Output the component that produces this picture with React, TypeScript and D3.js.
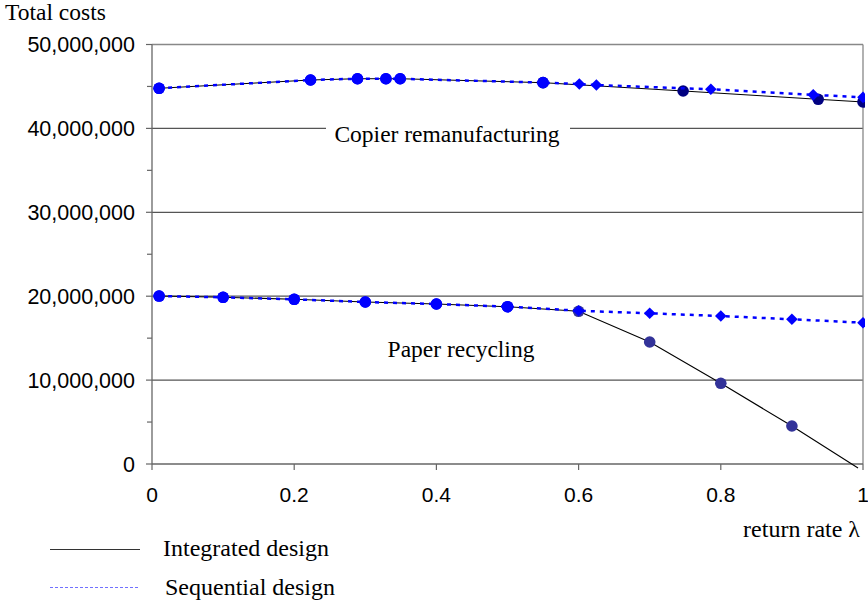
import React from "react";
import * as d3 from "d3";

// Return rates (λ) and total costs for both product cases
const copierIntegratedX = [0.01, 0.223, 0.289, 0.329, 0.349, 0.55, 0.747, 0.937, 1.0];
const copierIntegratedY = [44780000, 45770000, 45920000, 45920000, 45920000, 45450000, 44460000, 43470000, 43150000];
const copierIntegratedColor = ["#0000ff", "#0000ff", "#0000ff", "#0000ff", "#0000ff", "#000080", "#000080", "#000080", "#000080"];

const copierSequentialX = [0.01, 0.223, 0.289, 0.329, 0.349, 0.55, 0.601, 0.625, 0.786, 0.93, 1.0];
const copierSequentialY = [44780000, 45770000, 45920000, 45920000, 45920000, 45450000, 45290000, 45170000, 44660000, 44000000, 43700000];
const copierSequentialShape = ["", "", "", "", "", "", "diamond", "diamond", "diamond", "diamond", "diamond"];

const paperIntegratedX = [0.01, 0.1, 0.2, 0.3, 0.4, 0.5, 0.6, 0.7, 0.8, 0.9, 0.993];
const paperIntegratedY = [20020000, 19870000, 19630000, 19310000, 19070000, 18750000, 18200000, 14540000, 9620000, 4530000, -480000];
const paperIntegratedColor = ["#0000ff", "#0000ff", "#0000ff", "#0000ff", "#0000ff", "#0000ff", "#333399", "#333399", "#333399", "#333399", ""];

const paperSequentialX = [0.01, 0.1, 0.2, 0.3, 0.4, 0.5, 0.6, 0.7, 0.8, 0.9, 1.0];
const paperSequentialY = [20020000, 19870000, 19630000, 19310000, 19070000, 18750000, 18270000, 17960000, 17640000, 17250000, 16840000];
const paperSequentialShape = ["", "", "", "", "", "", "diamond", "diamond", "diamond", "diamond", "diamond"];

const xTicks = [0, 0.2, 0.4, 0.6, 0.8, 1];
const yTicks = [0, 10000000, 20000000, 30000000, 40000000, 50000000];
const yMinorTicks = [5000000, 15000000, 25000000, 35000000, 45000000];

const W = 868;
const H = 604;
const left = 152;
const right = 863;
const top = 44.5;
const bottom = 464;

const serif = "'Liberation Serif', 'Times New Roman', serif";
const sans = "'Liberation Sans', Arial, sans-serif";

export default function App() {
  const x = d3.scaleLinear().domain([0, 1]).range([left, right]);
  const y = d3.scaleLinear().domain([0, 50000000]).range([bottom, top]);
  const line = d3
    .line<[number, number]>()
    .x((d) => x(d[0]))
    .y((d) => y(d[1]));
  const fmt = d3.format(",");

  const zip = (xs: number[], ys: number[]) => xs.map((v, i) => [v, ys[i]] as [number, number]);
  const copierInt = zip(copierIntegratedX, copierIntegratedY);
  const copierSeq = zip(copierSequentialX, copierSequentialY);
  const paperInt = zip(paperIntegratedX, paperIntegratedY);
  const paperSeq = zip(paperSequentialX, paperSequentialY);

  const diamond = (cx: number, cy: number, r: number) =>
    `M${cx},${cy - r}L${cx + r},${cy}L${cx},${cy + r}L${cx - r},${cy}Z`;

  const seqMarkers = (pts: [number, number][], shapes: string[], key: string) =>
    pts.map((p, i) =>
      shapes[i] === "diamond" ? (
        <path key={key + i} d={diamond(x(p[0]), y(p[1]), 5.8)} fill="#0000ff" />
      ) : (
        <circle key={key + i} cx={x(p[0])} cy={y(p[1])} r={5.8} fill="#0000ff" />
      )
    );

  const intMarkers = (pts: [number, number][], colors: string[], key: string) =>
    pts.map((p, i) =>
      colors[i] ? (
        <circle key={key + i} cx={x(p[0])} cy={y(p[1])} r={5.8} fill={colors[i]} />
      ) : null
    );

  return (
    <svg
      width={W}
      height={H}
      style={{ position: "absolute", left: 0, top: 0, background: "#fff" }}
    >
      <defs>
        <clipPath id="plotClip">
          <rect x={left} y={top} width={right - left + 2} height={bottom - top + 5} />
        </clipPath>
      </defs>

      {/* gridlines */}
      {yTicks.slice(1, -1).map((t) => (
        <line key={"g" + t} x1={left} x2={right} y1={y(t)} y2={y(t)} stroke="#555" strokeWidth={1.2} />
      ))}
      {/* plot frame */}
      <line x1={left} x2={right} y1={y(50000000)} y2={y(50000000)} stroke="#888" strokeWidth={1.3} />
      <line x1={right} x2={right} y1={top} y2={bottom} stroke="#888" strokeWidth={1.3} />

      {/* axes */}
      <line x1={left} x2={left} y1={top} y2={bottom} stroke="#666" strokeWidth={1.3} />
      <line x1={left} x2={right} y1={bottom} y2={bottom} stroke="#666" strokeWidth={1.3} />
      {yTicks.map((t) => (
        <line key={"yt" + t} x1={left - 6} x2={left} y1={y(t)} y2={y(t)} stroke="#666" strokeWidth={1.2} />
      ))}
      {yMinorTicks.map((t) => (
        <line key={"ym" + t} x1={left - 5} x2={left} y1={y(t)} y2={y(t)} stroke="#666" strokeWidth={1.2} />
      ))}
      {xTicks.map((t) => (
        <line key={"xt" + t} x1={x(t)} x2={x(t)} y1={bottom} y2={bottom + 6} stroke="#666" strokeWidth={1.2} />
      ))}

      {/* tick labels */}
      {yTicks.map((t) => (
        <text key={"yl" + t} x={135} y={y(t) + 7.5} textAnchor="end" fontFamily={sans} fontSize={21.5} fill="#000">
          {fmt(t)}
        </text>
      ))}
      {xTicks.map((t) => (
        <text key={"xl" + t} x={x(t)} y={501.5} textAnchor="middle" fontFamily={sans} fontSize={21} fill="#000">
          {String(t)}
        </text>
      ))}

      {/* case labels */}
      <rect x={326} y={118} width={244} height={24} fill="#fff" />
      <text x={447} y={141.5} textAnchor="middle" fontFamily={serif} fontSize={23.5} fill="#000">
        Copier remanufacturing
      </text>
      <text x={461} y={357} textAnchor="middle" fontFamily={serif} fontSize={23.5} fill="#000">
        Paper recycling
      </text>

      {/* series */}
      <g clipPath="url(#plotClip)">
        <path d={line(copierInt) || ""} fill="none" stroke="#000" strokeWidth={1} />
        <path d={line(paperInt) || ""} fill="none" stroke="#000" strokeWidth={1.1} />
        {intMarkers(copierInt, copierIntegratedColor, "ci")}
        {intMarkers(paperInt, paperIntegratedColor, "pi")}
        <path d={line(copierSeq) || ""} fill="none" stroke="#0000ff" strokeWidth={2.5} strokeDasharray="4 5" />
        <path d={line(paperSeq) || ""} fill="none" stroke="#0000ff" strokeWidth={2.5} strokeDasharray="4 5" />
        {seqMarkers(copierSeq, copierSequentialShape, "cs")}
        {seqMarkers(paperSeq, paperSequentialShape, "ps")}
      </g>

      {/* axis titles */}
      <text x={5} y={20} fontFamily={serif} fontSize={23.5} fill="#000">
        Total costs
      </text>
      <text x={860} y={537} textAnchor="end" fontFamily={serif} fontSize={24} fill="#000">
        return rate λ
      </text>

      {/* legend */}
      <line x1={50} x2={140} y1={549.5} y2={549.5} stroke="#333" strokeWidth={1.2} />
      <text x={163} y={556} fontFamily={serif} fontSize={24} fill="#000">
        Integrated design
      </text>
      <line x1={50} x2={140} y1={587.5} y2={587.5} stroke="#7070ff" strokeWidth={1.2} strokeDasharray="3 2" />
      <text x={165} y={595} fontFamily={serif} fontSize={24} fill="#000">
        Sequential design
      </text>
    </svg>
  );
}
